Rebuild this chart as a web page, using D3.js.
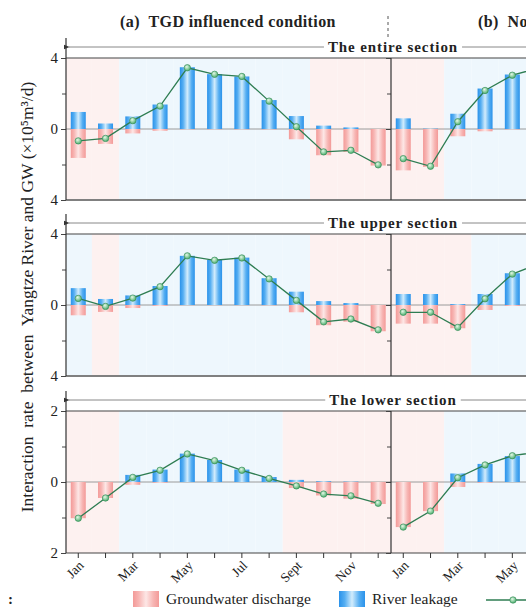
<!DOCTYPE html>
<html lang="en">
<head>
<meta charset="UTF-8">
<title>Interaction rate between Yangtze River and GW</title>
<script src="https://d3js.org/d3.v7.min.js"></script>
<style>
    body { margin: 0; background: #fff; }
    svg { display: block; overflow: hidden; }
    text { font-family: "Liberation Serif", "Times New Roman", serif; fill: #222; }
</style>
</head>
<body>
<script>
    // Months and tick labels
    var months = ["Jan", "Feb", "Mar", "Apr", "May", "Jun", "Jul", "Aug", "Sept", "Oct", "Nov", "Dec"];
    var monthLabels = ["Jan", "", "Mar", "", "May", "", "Jul", "", "Sept", "", "Nov", ""];

    var panelTitles = ["(a)  TGD influenced condition", "(b)  Non-TGD condition"];
    var sectionNames = ["The entire section", "The upper section", "The lower section"];
    var sectionMax = [4, 4, 2];

    // (a) TGD influenced condition, x10^5 m3/d
    var entireLeakA = [0.96, 0.31, 0.71, 1.38, 3.48, 3.09, 2.96, 1.63, 0.73, 0.19, 0.09, 0.0];
    var entireDisA = [-1.63, -0.84, -0.25, -0.1, -0.02, -0.02, -0.02, -0.02, -0.58, -1.48, -1.29, -2.06];
    var entireNetA = [-0.67, -0.53, 0.47, 1.29, 3.45, 3.08, 2.96, 1.57, 0.13, -1.29, -1.2, -2.02];

    var upperLeakA = [0.95, 0.34, 0.54, 1.07, 2.77, 2.54, 2.67, 1.51, 0.75, 0.22, 0.11, 0.0];
    var upperDisA = [-0.58, -0.39, -0.17, -0.05, -0.01, -0.01, -0.01, -0.02, -0.41, -1.14, -0.94, -1.48];
    var upperNetA = [0.37, -0.08, 0.39, 1.03, 2.77, 2.52, 2.65, 1.47, 0.26, -0.95, -0.79, -1.4];

    var lowerLeakA = [0.0, 0.0, 0.2, 0.35, 0.8, 0.62, 0.35, 0.14, 0.06, 0.02, 0.01, 0.0];
    var lowerDisA = [-1.02, -0.45, -0.08, -0.02, 0.0, 0.0, 0.0, 0.0, -0.17, -0.38, -0.47, -0.62];
    var lowerNetA = [-1.02, -0.45, 0.13, 0.33, 0.79, 0.6, 0.33, 0.1, -0.11, -0.34, -0.39, -0.6];

    // (b) second condition (only Jan-Jun visible in the picture)
    var entireLeakB = [0.6, 0.02, 0.86, 2.28, 3.07, 3.5, 3.3, 2.4, 1.0, 0.3, 0.2, 0.1];
    var entireDisB = [-2.33, -2.13, -0.41, -0.13, -0.02, -0.02, -0.02, -0.05, -0.6, -1.6, -1.5, -2.2];
    var entireNetB = [-1.67, -2.1, 0.41, 2.17, 3.03, 3.45, 3.25, 2.3, 0.4, -1.3, -1.3, -2.1];

    var upperLeakB = [0.62, 0.62, 0.05, 0.62, 1.79, 2.4, 2.5, 1.8, 0.8, 0.2, 0.1, 0.05];
    var upperDisB = [-1.05, -1.05, -1.31, -0.28, -0.05, -0.02, -0.02, -0.05, -0.4, -1.1, -1.0, -1.4];
    var upperNetB = [-0.41, -0.41, -1.26, 0.35, 1.74, 2.35, 2.45, 1.7, 0.4, -0.9, -0.9, -1.35];

    var lowerLeakB = [0.0, 0.0, 0.24, 0.51, 0.73, 0.85, 0.6, 0.3, 0.1, 0.02, 0.01, 0.0];
    var lowerDisB = [-1.27, -0.82, -0.14, -0.02, 0.0, 0.0, 0.0, -0.02, -0.15, -0.4, -0.5, -0.7];
    var lowerNetB = [-1.27, -0.82, 0.12, 0.48, 0.74, 0.85, 0.6, 0.28, -0.05, -0.38, -0.49, -0.7];

    var legendLabels = ["Groundwater discharge", "River leakage"];

    // grid of [section][panel]
    var series = [
        [{ leak: entireLeakA, dis: entireDisA, net: entireNetA }, { leak: entireLeakB, dis: entireDisB, net: entireNetB }],
        [{ leak: upperLeakA, dis: upperDisA, net: upperNetA }, { leak: upperLeakB, dis: upperDisB, net: upperNetB }],
        [{ leak: lowerLeakA, dis: lowerDisA, net: lowerNetA }, { leak: lowerLeakB, dis: lowerDisB, net: lowerNetB }]
    ];

    // layout
    var W = 526, H = 613;
    var panelX = [66, 391];
    var panelW = 325;
    var rowTop = [58, 234, 411];
    var rowH = 142;

    var svg = d3.select("body").append("svg")
        .attr("width", W)
        .attr("height", H);

    var defs = svg.append("defs");

    function barGradient(id, edge, mid, center) {
        var g = defs.append("linearGradient").attr("id", id)
            .attr("x1", "0").attr("x2", "1").attr("y1", "0").attr("y2", "0");
        [[0, edge], [0.22, mid], [0.5, center], [0.78, mid], [1, edge]].forEach(function (s) {
            g.append("stop").attr("offset", s[0]).attr("stop-color", s[1]);
        });
    }
    barGradient("gBlue", "#2a92ea", "#55aef2", "#d2ecfc");
    barGradient("gPink", "#f39a98", "#f7b5b3", "#fde7e6");

    var dotGrad = defs.append("radialGradient").attr("id", "gDot")
        .attr("cx", "0.4").attr("cy", "0.35").attr("r", "0.65");
    dotGrad.append("stop").attr("offset", 0).attr("stop-color", "#e4f8e6");
    dotGrad.append("stop").attr("offset", 1).attr("stop-color", "#4caf6e");

    defs.append("marker").attr("id", "arrowL")
        .attr("viewBox", "0 0 10 10").attr("refX", 1).attr("refY", 5)
        .attr("markerWidth", 6).attr("markerHeight", 6).attr("orient", "auto-start-reverse")
        .append("path").attr("d", "M0,5 L10,1 L10,9 Z").attr("fill", "#333");

    // x scale inside one panel (month index -> px)
    var x = d3.scaleLinear().domain([-0.45, 11.47]).range([0, panelW]);
    var barW = 15;

    // Panel titles
    svg.append("text")
        .attr("x", panelX[0] + 162)
        .attr("y", 27)
        .attr("text-anchor", "middle")
        .style("font-weight", "bold")
        .style("font-size", "16px")
        .style("letter-spacing", "0.4px")
        .style("white-space", "pre")
        .text(panelTitles[0]);
    svg.append("text")
        .attr("x", 478)
        .attr("y", 27)
        .style("font-weight", "bold")
        .style("font-size", "16px")
        .style("letter-spacing", "0.4px")
        .style("white-space", "pre")
        .text(panelTitles[1]);

    // dashed separator between titles
    svg.append("line")
        .attr("x1", 388).attr("x2", 388)
        .attr("y1", 16).attr("y2", 40)
        .attr("stroke", "#555")
        .attr("stroke-dasharray", "3,3");

    sectionNames.forEach(function (name, r) {
        var top = rowTop[r], bottom = top + rowH;
        var m = sectionMax[r];
        var y = d3.scaleLinear().domain([-m, m]).range([bottom, top]);
        var row = svg.append("g");

        // backgrounds, from the sign of the net rate
        series[r].forEach(function (s, p) {
            s.net.forEach(function (v, i) {
                var x0 = i === 0 ? 0 : x(i - 0.5);
                var x1 = i === 11 ? panelW : x(i + 0.5);
                row.append("rect")
                    .attr("x", panelX[p] + x0)
                    .attr("y", top)
                    .attr("width", x1 - x0)
                    .attr("height", rowH)
                    .attr("fill", v >= 0 ? "#eef7fd" : "#fdf1f0");
            });
        });

        // zero line
        row.append("line")
            .attr("x1", panelX[0]).attr("x2", panelX[1] + panelW)
            .attr("y1", y(0)).attr("y2", y(0))
            .attr("stroke", "#9a9a9a").attr("stroke-width", 1);

        series[r].forEach(function (s, p) {
            var g = row.append("g").attr("transform", "translate(" + panelX[p] + ",0)");

            g.selectAll("rect.leak").data(s.leak).enter().append("rect")
                .attr("class", "leak")
                .attr("x", function (d, i) { return x(i) - barW / 2; })
                .attr("y", function (d) { return y(d); })
                .attr("width", barW)
                .attr("height", function (d) { return y(0) - y(d); })
                .attr("fill", "url(#gBlue)");

            g.selectAll("rect.dis").data(s.dis).enter().append("rect")
                .attr("class", "dis")
                .attr("x", function (d, i) { return x(i) - barW / 2; })
                .attr("y", y(0))
                .attr("width", barW)
                .attr("height", function (d) { return y(d) - y(0); })
                .attr("fill", "url(#gPink)");

            var line = d3.line()
                .x(function (d, i) { return x(i); })
                .y(function (d) { return y(d); });

            g.append("path").datum(s.net)
                .attr("d", line)
                .attr("fill", "none")
                .attr("stroke", "#2e7d52")
                .attr("stroke-width", 1.3);

            g.selectAll("circle").data(s.net).enter().append("circle")
                .attr("cx", function (d, i) { return x(i); })
                .attr("cy", function (d) { return y(d); })
                .attr("r", 3.2)
                .attr("fill", "url(#gDot)")
                .attr("stroke", "#3a8f5c")
                .attr("stroke-width", 0.7);

            // y axis for each panel
            var ax = d3.axisLeft(y)
                .tickValues([-m, -m / 2, 0, m / 2, m])
                .tickSize(5)
                .tickFormat(function (d) { return (p === 0 && d % m === 0) ? Math.abs(d) : ""; });
            var axG = g.append("g").call(ax);
            axG.select(".domain").remove();
            axG.selectAll("line").attr("stroke", "#444")
                .attr("x2", function (d) { return d % m === 0 ? -5 : -4; });
            axG.selectAll("text")
                .style("font-family", "'Liberation Serif', serif")
                .style("font-size", "15px")
                .attr("fill", "#333")
                .attr("x", -8);
        });

        // frame lines
        row.append("line")
            .attr("x1", panelX[0]).attr("x2", panelX[1] + panelW)
            .attr("y1", top).attr("y2", top)
            .attr("stroke", "#444").attr("stroke-width", 1.2);
        row.append("line")
            .attr("x1", panelX[0]).attr("x2", panelX[1] + panelW)
            .attr("y1", bottom).attr("y2", bottom)
            .attr("stroke", r === 2 ? "#444" : "#808080").attr("stroke-width", r === 2 ? 1.2 : 2);
        // left axis line (runs up past the frame to the arrow)
        row.append("line")
            .attr("x1", panelX[0]).attr("x2", panelX[0])
            .attr("y1", top - 20).attr("y2", bottom)
            .attr("stroke", "#333").attr("stroke-width", 1.2);
        // divider between the two panels
        row.append("line")
            .attr("x1", panelX[1]).attr("x2", panelX[1])
            .attr("y1", top).attr("y2", bottom)
            .attr("stroke", "#333").attr("stroke-width", 1.2);

        // section arrow and name
        var ay = top - 11;
        row.append("line")
            .attr("x1", panelX[0] + 3).attr("x2", panelX[1] + panelW - 3)
            .attr("y1", ay).attr("y2", ay)
            .attr("stroke", "#888").attr("stroke-width", 1)
            .attr("marker-start", "url(#arrowL)")
            .attr("marker-end", "url(#arrowL)");
        var label = row.append("text")
            .attr("x", panelX[1] + 2)
            .attr("y", ay + 5)
            .attr("text-anchor", "middle")
            .style("font-weight", "bold")
            .style("font-size", "15px")
            .style("letter-spacing", "0.9px")
            .text(name);
        var bb = label.node().getBBox();
        row.append("rect")
            .attr("x", bb.x - 4).attr("y", ay - 3)
            .attr("width", bb.width + 8).attr("height", 6)
            .attr("fill", "#fff");
        label.raise();
    });

    // x axis ticks and month labels at the bottom row
    var xBottom = rowTop[2] + rowH;
    panelX.forEach(function (px) {
        var g = svg.append("g").attr("transform", "translate(" + px + "," + xBottom + ")");
        g.selectAll("line").data(months).enter().append("line")
            .attr("x1", function (d, i) { return x(i); })
            .attr("x2", function (d, i) { return x(i); })
            .attr("y1", 0).attr("y2", 5)
            .attr("stroke", "#333");
        g.selectAll("text").data(monthLabels).enter().append("text")
            .attr("transform", function (d, i) {
                return "translate(" + (x(i) + 3) + ",10) rotate(-45)";
            })
            .attr("text-anchor", "end")
            .attr("dy", "0.35em")
            .style("font-size", "13.5px")
            .text(function (d) { return d; });
    });

    // y axis title
    svg.append("text")
        .attr("transform", "translate(33,297) rotate(-90)")
        .attr("text-anchor", "middle")
        .style("font-size", "17.5px")
        .style("white-space", "pre")
        .text("Interaction  rate  between  Yangtze River and GW (\u00d710\u2075m\u00b3/d)");

    // legend
    var legend = svg.append("g");
    legend.append("text").attr("x", 8).attr("y", 604).style("font-size", "15px").style("font-weight", "bold").text(":");
    var swatches = [
        { x: 133, fill: "url(#gPink)", label: legendLabels[0] },
        { x: 339, fill: "url(#gBlue)", label: legendLabels[1] }
    ];
    swatches.forEach(function (s) {
        legend.append("rect")
            .attr("x", s.x).attr("y", 591)
            .attr("width", 26).attr("height", 16)
            .attr("fill", s.fill);
        legend.append("text")
            .attr("x", s.x + 33).attr("y", 604)
            .style("font-size", "15.5px")
            .text(s.label);
    });
    legend.append("line")
        .attr("x1", 486).attr("x2", 545)
        .attr("y1", 600).attr("y2", 600)
        .attr("stroke", "#2e7d52").attr("stroke-width", 1.3);
    legend.append("circle")
        .attr("cx", 513).attr("cy", 600).attr("r", 3.2)
        .attr("fill", "url(#gDot)").attr("stroke", "#3a8f5c").attr("stroke-width", 0.7);
</script>
</body>
</html>
